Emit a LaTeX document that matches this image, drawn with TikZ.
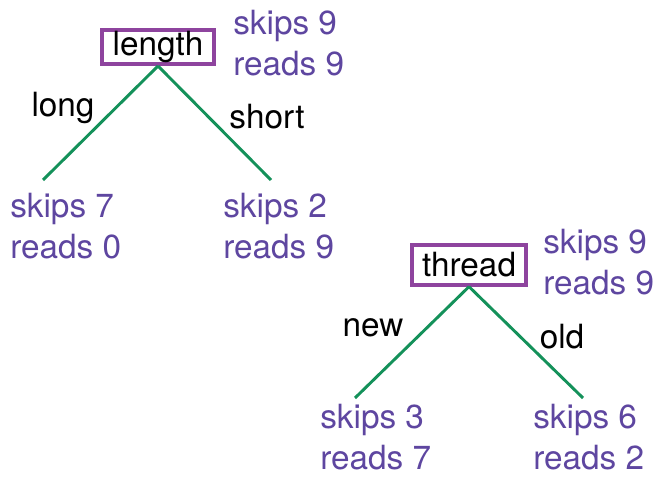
\documentclass[tikz,border=0pt]{standalone}
\usepackage{fontspec}
\setmainfont{TeX Gyre Heros}
\definecolor{splitpurple}{HTML}{8E449E}
\definecolor{countpurple}{HTML}{5E46A0}
\definecolor{branchgreen}{HTML}{14915A}
\tikzset{
  split/.style={draw=splitpurple,line width=3pt,inner sep=0pt,
    font=\fontsize{25}{30}\selectfont},
  counts/.style={text=countpurple,align=left,inner sep=0pt,anchor=west,
    font=\fontsize{25}{30.5}\selectfont},
  branch/.style={branchgreen,line width=2.2pt},
  answer/.style={inner sep=0pt,font=\fontsize{25}{30}\selectfont}
}
\begin{document}
\begin{tikzpicture}[x=0.75pt,y=-0.75pt]
  \useasboundingbox (0,0) rectangle (657,477);
  % first split
  \node[split,minimum width=84pt,minimum height=25.5pt] (length) at (158,47) {length};
  \node[counts] (length-counts) at (233,43) {skips 9\\reads 9};
  \coordinate (length-long) at (43,180);
  \coordinate (length-short) at (271,180);
  \draw[branch] (length.south) -- (length-long);
  \draw[branch] (length.south) -- (length-short);
  \node[answer] (long) at (63,108) {long};
  \node[answer] (short) at (267,117) {short};
  \node[counts] (long-counts) at (10,226) {skips 7\\reads 0};
  \node[counts] (short-counts) at (223,226) {skips 2\\reads 9};
  % second split
  \node[split,minimum width=85.5pt,minimum height=29.5pt] (thread) at (469,265) {thread};
  \node[counts] (thread-counts) at (543,262) {skips 9\\reads 9};
  \coordinate (thread-new) at (355,398);
  \coordinate (thread-old) at (583,398);
  \draw[branch] (thread.south) -- (thread-new);
  \draw[branch] (thread.south) -- (thread-old);
  \node[answer] (new) at (373,328) {new};
  \node[answer] (old) at (562,337) {old};
  \node[counts] (new-counts) at (320,437) {skips 3\\reads 7};
  \node[counts] (old-counts) at (533,437) {skips 6\\reads 2};
\end{tikzpicture}
\end{document}
